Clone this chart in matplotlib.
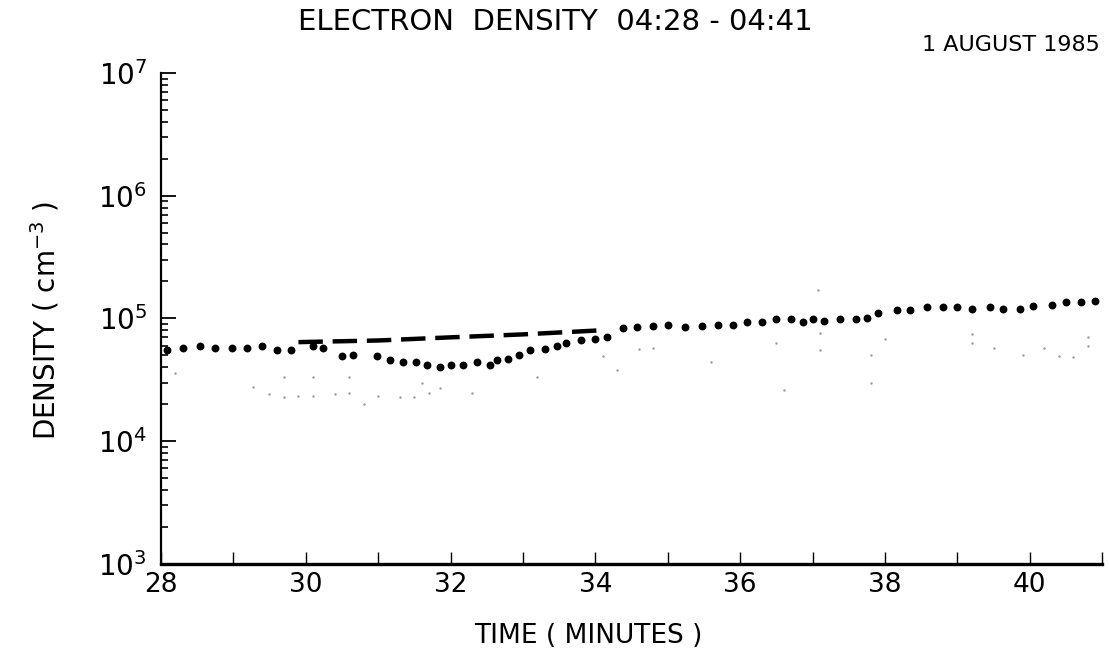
import matplotlib
matplotlib.use("Agg")
import matplotlib.pyplot as plt
from matplotlib.ticker import FixedLocator, NullFormatter, LogLocator

plt.rcParams['font.family'] = ['DejaVu Sans']
plt.rcParams['mathtext.default'] = 'regular'

# main electron density samples (minutes past 04:00, cm^-3)
t_main = [28.08, 28.30, 28.54, 28.75, 28.98, 29.19, 29.40, 29.60, 29.80, 30.10,
          30.24, 30.50, 30.65, 30.98, 31.16, 31.34, 31.53, 31.67, 31.85, 32.00,
          32.17, 32.36, 32.54, 32.64, 32.80, 32.95, 33.10, 33.30, 33.47, 33.60,
          33.80, 34.00, 34.16, 34.38, 34.57, 34.80, 35.00, 35.24, 35.47, 35.70,
          35.90, 36.10, 36.30, 36.50, 36.70, 36.87, 37.00, 37.15, 37.38, 37.60,
          37.75, 37.90, 38.16, 38.35, 38.58, 38.80, 39.00, 39.20, 39.45, 39.63,
          39.86, 40.04, 40.30, 40.50, 40.70, 40.90]
n_main = [5.5e4, 5.75e4, 5.9e4, 5.75e4, 5.75e4, 5.75e4, 6.0e4, 5.5e4, 5.5e4, 5.9e4,
          5.75e4, 4.9e4, 5.0e4, 4.9e4, 4.6e4, 4.4e4, 4.4e4, 4.2e4, 4.0e4, 4.2e4,
          4.2e4, 4.4e4, 4.2e4, 4.6e4, 4.7e4, 5.0e4, 5.5e4, 5.6e4, 5.9e4, 6.3e4,
          6.6e4, 6.8e4, 7.1e4, 8.3e4, 8.5e4, 8.7e4, 8.9e4, 8.5e4, 8.7e4, 8.9e4,
          8.9e4, 9.3e4, 9.3e4, 9.8e4, 9.8e4, 9.3e4, 9.8e4, 9.5e4, 9.8e4, 9.8e4,
          1.0e5, 1.1e5, 1.17e5, 1.17e5, 1.23e5, 1.23e5, 1.23e5, 1.2e5, 1.23e5, 1.2e5,
          1.2e5, 1.26e5, 1.29e5, 1.35e5, 1.35e5, 1.38e5]

# faint secondary samples
t_faint = [28.20, 29.27, 29.50, 29.70, 29.70, 29.90, 30.10, 30.10, 30.40, 30.60,
           30.60, 30.80, 31.00, 31.30, 31.50, 31.60, 31.70, 31.85, 32.30, 33.20,
           34.10, 34.30, 34.60, 34.80, 35.60, 36.50, 36.60, 37.10, 37.10, 37.07,
           37.80, 37.80, 38.00, 39.20, 39.20, 39.50, 39.90, 40.20, 40.40, 40.60,
           40.80, 40.80]
n_faint = [3.6e4, 2.75e4, 2.4e4, 2.3e4, 3.3e4, 2.35e4, 3.3e4, 2.35e4, 2.4e4, 3.3e4,
           2.45e4, 2.0e4, 2.35e4, 2.3e4, 2.3e4, 2.95e4, 2.45e4, 2.7e4, 2.45e4, 3.3e4,
           4.9e4, 3.8e4, 5.6e4, 5.75e4, 4.4e4, 6.3e4, 2.6e4, 5.5e4, 7.6e4, 1.7e5,
           5.0e4, 3.0e4, 6.8e4, 7.4e4, 6.3e4, 5.75e4, 5.0e4, 5.75e4, 4.9e4, 4.8e4,
           5.9e4, 7.1e4]

# dashed reference curve
t_model = [29.9, 31.0, 32.0, 33.0, 34.1]
n_model = [6.4e4, 6.6e4, 7.0e4, 7.4e4, 8.0e4]

x_major = [28, 30, 32, 34, 36, 38, 40]
x_minor = [29, 31, 33, 35, 37, 39, 41]
y_ticks = [1e3, 1e4, 1e5, 1e6, 1e7]
y_labels = ['$10^{3}$', '$10^{4}$', '$10^{5}$', '$10^{6}$', '$10^{7}$']

fig = plt.figure(figsize=(11.09, 6.51), dpi=100)
ax = fig.add_axes([0.145, 0.134, 0.849, 0.754])

ax.scatter(t_faint, n_faint, s=3, color='#9a9a9a', linewidths=0)
ax.scatter(t_main, n_main, s=32, color='black', marker='o', linewidths=0)
ax.plot(t_model, n_model, color='black', lw=3.2, dashes=(5.5, 2.2))

ax.set_yscale('log')
ax.set_xlim(28, 41)
ax.set_ylim(1e3, 1e7)

ax.spines['top'].set_visible(False)
ax.spines['right'].set_visible(False)
ax.spines['left'].set_linewidth(1.6)
ax.spines['bottom'].set_linewidth(2.4)

ax.xaxis.set_major_locator(FixedLocator(x_major))
ax.xaxis.set_minor_locator(FixedLocator(x_minor))
ax.set_xticklabels([str(v) for v in x_major])
ax.tick_params(axis='x', which='both', direction='in', length=9, width=1,
               labelsize=19, pad=6)

ax.yaxis.set_major_locator(FixedLocator(y_ticks))
ax.set_yticklabels(y_labels)
ax.yaxis.set_minor_locator(LogLocator(base=10, subs=range(2, 10)))
ax.yaxis.set_minor_formatter(NullFormatter())
ax.tick_params(axis='y', which='major', direction='in', length=11, width=1.3,
               labelsize=20, pad=10)
ax.tick_params(axis='y', which='minor', direction='in', length=5, width=1.2)

fig.text(555 / 1109, 1 - 22 / 651, 'ELECTRON  DENSITY  04:28 - 04:41',
         ha='center', va='center', fontsize=21)
fig.text(1100 / 1109, 1 - 45 / 651, '1 AUGUST 1985', ha='right', va='center',
         fontsize=16)
fig.text(45 / 1109, 1 - 320 / 651, 'DENSITY ( cm$^{-3}$ )', rotation=90,
         ha='center', va='center', fontsize=20)
fig.text(588 / 1109, 1 - 636 / 651, 'TIME ( MINUTES )', ha='center',
         va='center', fontsize=19)

fig.savefig('out.png', dpi=100)
